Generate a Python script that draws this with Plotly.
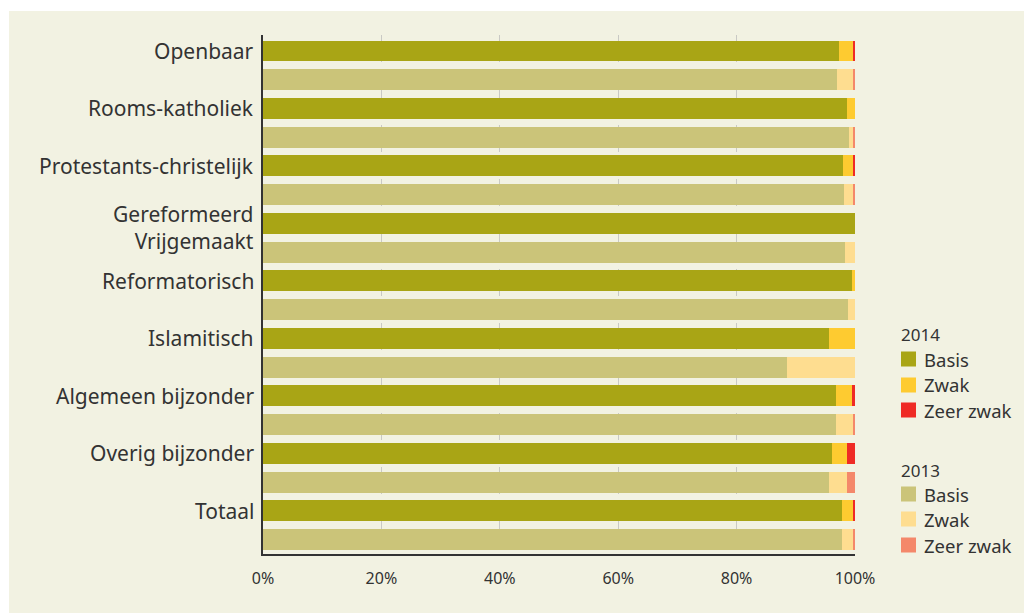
import plotly.graph_objects as go

# Schoolsoorten (denominaties) en beoordelingen per jaar, in procenten
denominaties = [
    "Openbaar",
    "Rooms-katholiek",
    "Protestants-christelijk",
    "Gereformeerd<br>Vrijgemaakt",
    "Reformatorisch",
    "Islamitisch",
    "Algemeen bijzonder",
    "Overig bijzonder",
    "Totaal",
]

basis_2014 = [97.3, 98.6, 98.0, 100.0, 99.5, 95.6, 96.8, 96.1, 97.8]
zwak_2014 = [2.3, 1.4, 1.7, 0.0, 0.5, 4.4, 2.7, 2.5, 1.9]
zeerzwak_2014 = [0.4, 0.0, 0.3, 0.0, 0.0, 0.0, 0.5, 1.4, 0.3]

basis_2013 = [97.0, 99.0, 98.1, 98.3, 98.8, 88.5, 96.8, 95.6, 97.8]
zwak_2013 = [2.8, 0.8, 1.7, 1.7, 1.2, 11.5, 3.0, 3.0, 2.0]
zeerzwak_2013 = [0.2, 0.2, 0.2, 0.0, 0.0, 0.0, 0.2, 1.4, 0.2]

x_ticks = [0, 20, 40, 60, 80, 100]
oordelen = ["Basis", "Zwak", "Zeer zwak"]

# Kleuren
BG = "#f2f2e2"
TEXT = "#333333"
KLEUR_2014 = {"Basis": "#a9a515", "Zwak": "#fecb30", "Zeer zwak": "#ef2b25"}
KLEUR_2013 = {"Basis": "#cbc479", "Zwak": "#fedd90", "Zeer zwak": "#f4886a"}

FONT = "Noto Sans, Open Sans, sans-serif"

# Afmetingen van de figuur en het plotvlak (pixels)
W, H = 1024, 613
ML, MR, MT, MB = 263, 169, 35, 59
PW, PH = W - ML - MR, H - MT - MB


def px_x(px):
    return (px - ML) / PW


def px_y(py):
    return (H - MB - py) / PH


rij_2014 = [f"{d}|2014" for d in denominaties]
rij_2013 = [f"{d}|2013" for d in denominaties]
volgorde = [r for pair in zip(rij_2014, rij_2013) for r in pair]

fig = go.Figure()

for jaar, rijen, reeksen, kleuren in [
    ("2014", rij_2014, [basis_2014, zwak_2014, zeerzwak_2014], KLEUR_2014),
    ("2013", rij_2013, [basis_2013, zwak_2013, zeerzwak_2013], KLEUR_2013),
]:
    for naam, waarden in zip(oordelen, reeksen):
        fig.add_trace(
            go.Bar(
                y=rijen,
                x=waarden,
                orientation="h",
                name=f"{naam} {jaar}",
                marker=dict(color=kleuren[naam], line=dict(width=0)),
                hoverinfo="x+name",
                showlegend=False,
            )
        )

# Labels van de denominaties, naast de balk van 2014
for d, rij in zip(denominaties, rij_2014):
    fig.add_annotation(
        x=0,
        xref="paper",
        y=rij,
        yref="y",
        text=d,
        showarrow=False,
        xanchor="right",
        yanchor="middle",
        xshift=-7,
        yshift=-4 if "<br>" in d else 0,
        align="right",
        font=dict(size=21, color=TEXT, family=FONT),
    )

# Legenda: per jaar een kop en drie gekleurde vakjes
for jaar, kleuren, y_kop, y_items in [
    ("2014", KLEUR_2014, 335, [359, 385, 410]),
    ("2013", KLEUR_2013, 470, [494, 519, 545]),
]:
    fig.add_annotation(
        x=px_x(899), xref="paper", y=px_y(y_kop), yref="paper",
        text=jaar, showarrow=False, xanchor="left", yanchor="middle",
        font=dict(size=17, color=TEXT, family=FONT),
    )
    for naam, yc in zip(oordelen, y_items):
        fig.add_shape(
            type="rect", xref="paper", yref="paper",
            x0=px_x(901), x1=px_x(916), y0=px_y(yc + 7.5), y1=px_y(yc - 7.5),
            fillcolor=kleuren[naam], line=dict(width=0),
        )
        fig.add_annotation(
            x=px_x(922), xref="paper", y=px_y(yc), yref="paper",
            text=naam, showarrow=False, xanchor="left", yanchor="middle",
            font=dict(size=18.5, color=TEXT, family=FONT),
        )

# Beige achtergrondvlak
fig.add_shape(
    type="rect",
    xref="paper",
    yref="paper",
    x0=px_x(9),
    x1=px_x(W + 5),
    y0=px_y(H + 5),
    y1=px_y(11),
    fillcolor=BG,
    line=dict(width=0),
    layer="below",
)

fig.update_layout(
    barmode="stack",
    bargap=0.27,
    width=W,
    height=H,
    margin=dict(l=ML, r=MR, t=MT, b=MB),
    paper_bgcolor="white",
    plot_bgcolor=BG,
    font=dict(family=FONT, color=TEXT),
    showlegend=False,
    xaxis=dict(
        range=[0, 100],
        tickvals=x_ticks,
        ticktext=[f"{v}%" for v in x_ticks],
        tickfont=dict(size=16, color=TEXT),
        showgrid=True,
        gridcolor="#c9c9c4",
        griddash="dash",
        gridwidth=1,
        zeroline=False,
        showline=True,
        linecolor="#333333",
        linewidth=1.5,
        ticks="",
        ticklabelstandoff=9,
        fixedrange=True,
    ),
    yaxis=dict(
        categoryorder="array",
        categoryarray=volgorde,
        autorange="reversed",
        showticklabels=False,
        showgrid=False,
        zeroline=False,
        showline=True,
        linecolor="#333333",
        linewidth=1.5,
        ticks="",
        fixedrange=True,
    ),
)

fig.write_html("out.html")
